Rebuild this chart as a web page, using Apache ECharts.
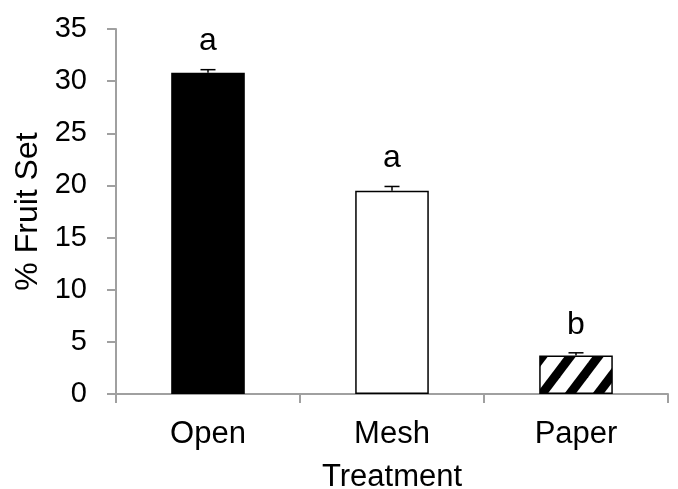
<!DOCTYPE html>
<html>
<head>
<meta charset="utf-8">
<script src="https://cdn.jsdelivr.net/npm/echarts@6/dist/echarts.min.js"></script>
<style>
html,body{margin:0;padding:0;background:#fff;}
#chart{width:678px;height:489px;}
</style>
</head>
<body>
<div id="chart"></div>
<script>
const categories = ['Open', 'Mesh', 'Paper'];
const fruitSet = [30.8, 19.5, 3.7];
const errors = [0.3, 0.4, 0.25];
const letters = ['a', 'a', 'b'];
const yTicks = [0, 5, 10, 15, 20, 25, 30, 35];

function makeHatch() {
  const W = 28, H = 37;
  const c = document.createElement('canvas');
  c.width = W; c.height = H;
  const ctx = c.getContext('2d');
  ctx.fillStyle = '#fff';
  ctx.fillRect(0, 0, W, H);
  ctx.strokeStyle = '#000';
  ctx.lineWidth = 9;
  for (const k of [-W, 0, W]) {
    ctx.beginPath();
    ctx.moveTo(k - W, 2 * H);
    ctx.lineTo(k + 2 * W, -H);
    ctx.stroke();
  }
  return c;
}
const hatch = makeHatch();

const fills = ['#000000', '#ffffff', {image: hatch, repeat: 'repeat'}];

const chart = echarts.init(document.getElementById('chart'));
const font = 'Liberation Sans, Arial, sans-serif';
chart.setOption({
  animation: false,
  backgroundColor: '#fff',
  grid: {left: 116, right: 10, top: 29, bottom: 95, outerBoundsMode: 'none', containLabel: false},
  xAxis: {
    type: 'category',
    data: categories,
    boundaryGap: true,
    name: 'Treatment',
    nameLocation: 'middle',
    nameGap: 68,
    nameTextStyle: {color: '#000', fontSize: 31, fontFamily: font},
    axisLine: {lineStyle: {color: '#a0a0a0', width: 2}},
    axisTick: {show: true, length: 9, lineStyle: {color: '#a0a0a0', width: 2}},
    axisLabel: {color: '#000', fontSize: 31, fontFamily: font, margin: 25}
  },
  yAxis: {
    type: 'value',
    min: 0, max: 35, interval: 5,
    name: '% Fruit Set',
    nameLocation: 'middle',
    nameGap: 68,
    nameTextStyle: {color: '#000', fontSize: 32, fontFamily: font},
    splitLine: {show: false},
    axisLine: {show: true, lineStyle: {color: '#a0a0a0', width: 2}},
    axisTick: {show: true, length: 9, lineStyle: {color: '#a0a0a0', width: 2}},
    axisLabel: {color: '#000', fontSize: 29, fontFamily: font, margin: 29,
      formatter: v => yTicks.includes(v) ? String(v) : ''}
  },
  series: [
    {
      type: 'bar',
      barWidth: '40%',
      data: fruitSet.map((v, i) => ({
        value: v,
        itemStyle: {color: fills[i], borderColor: '#000', borderWidth: 1.5}
      }))
    },
    {
      type: 'custom',
      data: fruitSet.map((v, i) => [i, v, errors[i], letters[i]]),
      renderItem: function (params, api) {
        const i = api.value(0);
        const v = api.value(1);
        const e = api.value(2);
        const base = api.coord([i, v]);
        const top = api.coord([i, v + e]);
        const cap = 7.5;
        return {
          type: 'group',
          children: [
            {type: 'line', shape: {x1: base[0], y1: base[1], x2: top[0], y2: top[1]},
              style: {stroke: '#000', lineWidth: 1.5}},
            {type: 'line', shape: {x1: top[0] - cap, y1: top[1], x2: top[0] + cap, y2: top[1]},
              style: {stroke: '#000', lineWidth: 1.5}},
            {type: 'text', x: top[0], y: top[1] - 12,
              style: {text: letters[params.dataIndex], fill: '#000', fontSize: 32,
                fontFamily: font, align: 'center', verticalAlign: 'bottom'}}
          ]
        };
      },
      z: 5
    }
  ]
});
</script>
</body>
</html>
